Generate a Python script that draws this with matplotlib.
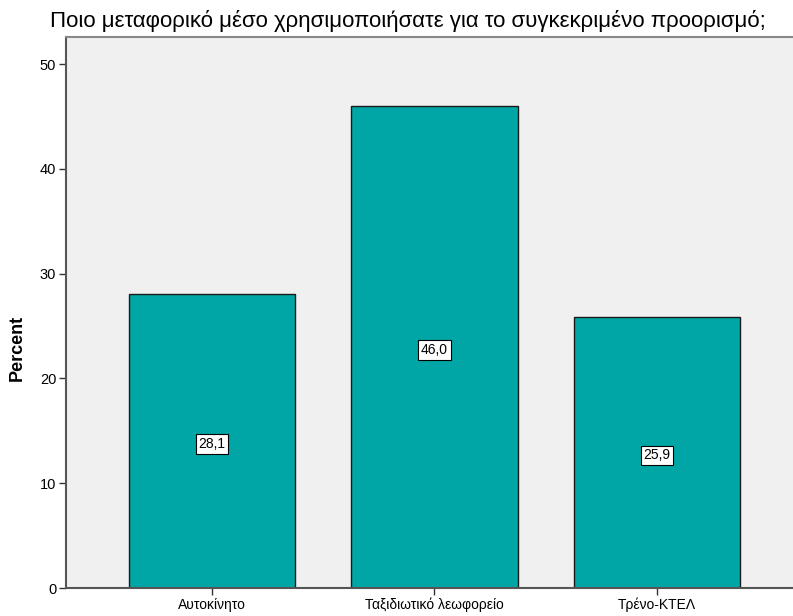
import matplotlib
matplotlib.use('Agg')
import matplotlib.pyplot as plt

plt.rcParams['font.family'] = ['Liberation Sans', 'DejaVu Sans']

categories = ['Αυτοκίνητο', 'Ταξιδιωτικό λεωφορείο', 'Τρένο-ΚΤΕΛ']
percent = [28.1, 46.0, 25.9]
labels = ['28,1', '46,0', '25,9']
yticks = [0, 10, 20, 30, 40, 50]

fig = plt.figure(figsize=(7.93, 6.16), dpi=100)
ax = fig.add_axes([66/793, 28/616, 737/793, 551/616])
ax.set_facecolor('#f0f0f0')

x = list(range(len(categories)))
ax.bar(x, percent, width=0.746, color='#00a6a6', edgecolor='#1a1a1a', linewidth=1.0, zorder=2)

for xi, v, lab in zip(x, percent, labels):
    ax.text(xi, v / 2 - 0.3, lab, ha='center', va='center', fontsize=10, zorder=3,
            bbox=dict(boxstyle='square,pad=0.2', facecolor='white', edgecolor='black', linewidth=0.8))

ax.set_xlim(-0.656, 2.656)
ax.set_ylim(0, 52.6)
ax.set_xticks(x)
ax.set_xticklabels(categories, fontsize=10)
ax.set_yticks(yticks)
ax.set_yticklabels([str(t) for t in yticks], fontsize=10.5)
ax.tick_params(axis='both', direction='out', length=5, width=1, color='#333333', pad=2)

ax.set_ylabel('Percent', fontsize=13, fontweight='bold')
ax.yaxis.set_label_coords(-0.054, 0.435)

for side in ['left', 'bottom']:
    ax.spines[side].set_color('#555555')
    ax.spines[side].set_linewidth(1.5)
ax.spines['top'].set_color('#888888')
ax.spines['top'].set_linewidth(1.5)
ax.spines['right'].set_visible(False)

fig.text(408/793, 1 - 21/616, 'Ποιο μεταφορικό μέσο χρησιμοποιήσατε για το συγκεκριμένο προορισμό;',
         ha='center', va='center', fontsize=16)

fig.savefig('out.png', dpi=100)
